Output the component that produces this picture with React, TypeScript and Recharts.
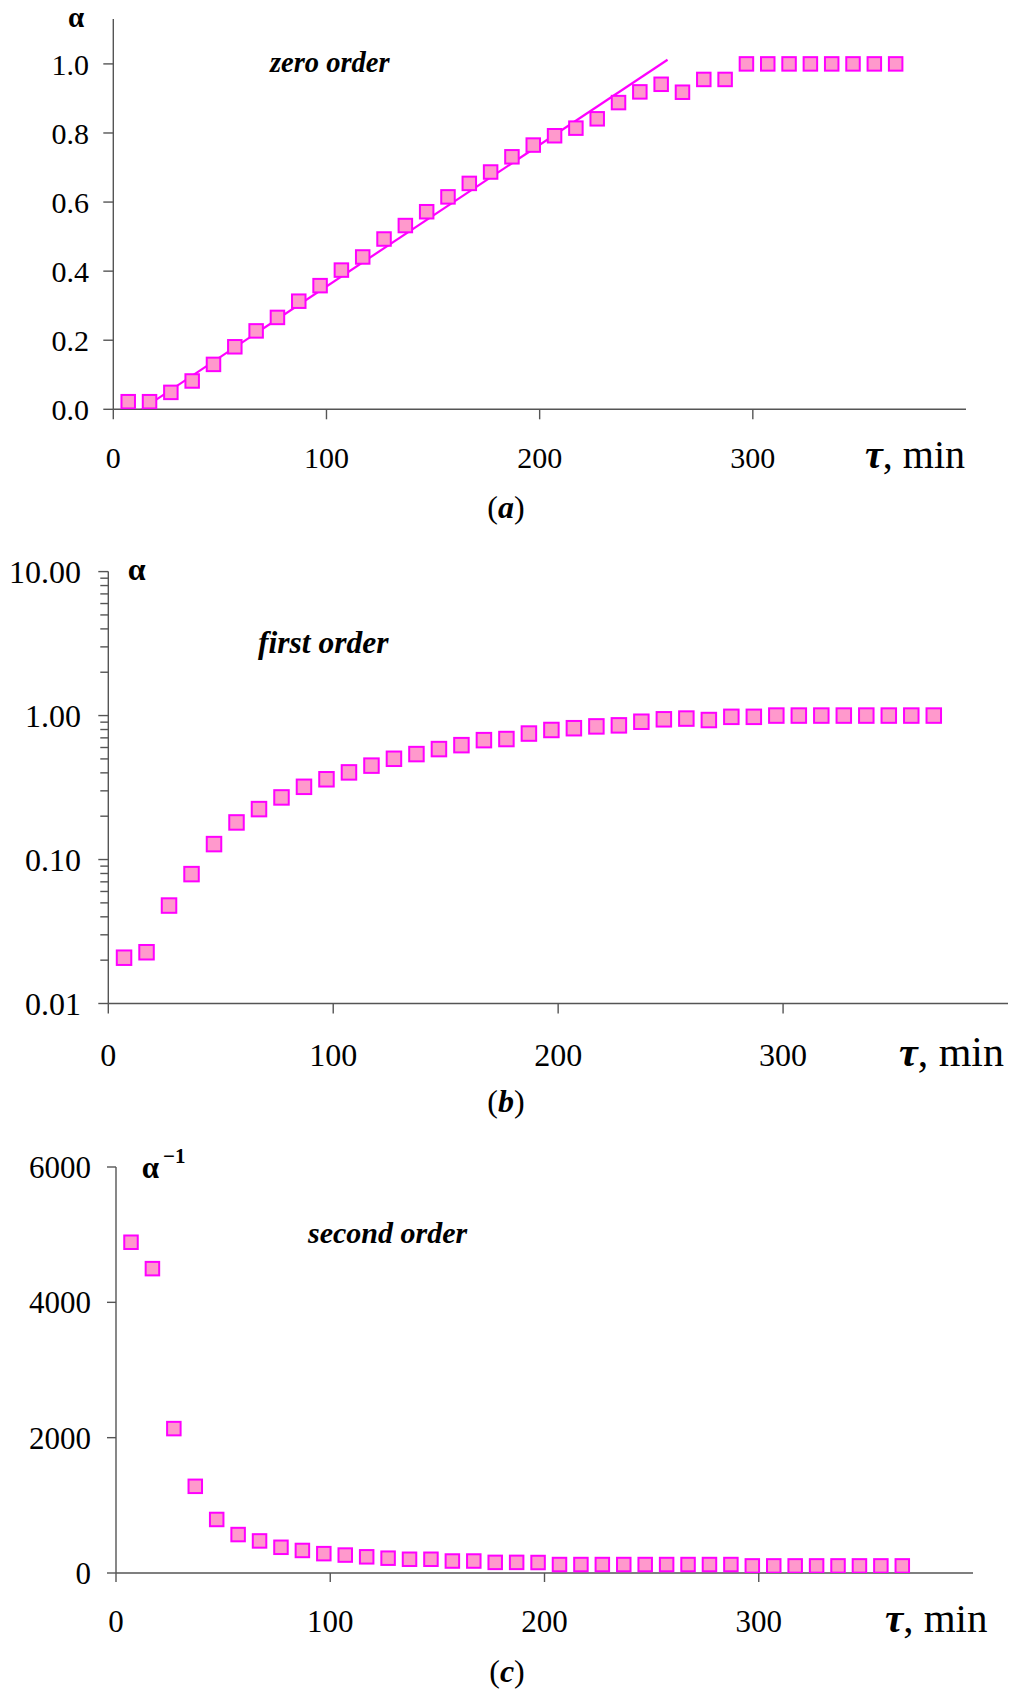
import React from 'react';
import { ScatterChart, Scatter, XAxis, YAxis } from 'recharts';

// ---------- data ----------
const timeMin = [7, 17, 27, 37, 47, 57, 67, 77, 87, 97, 107, 117, 127, 137, 147, 157, 167, 177, 187, 197, 207, 217, 227, 237, 247, 257, 267, 277, 287, 297, 307, 317, 327, 337, 347, 357, 367];

// (a) zero order: alpha vs time
const alphaZeroOrder = [0.022, 0.022, 0.049, 0.082, 0.13, 0.181, 0.227, 0.266, 0.313, 0.358, 0.403, 0.441, 0.493, 0.532, 0.572, 0.615, 0.654, 0.687, 0.731, 0.765, 0.792, 0.814, 0.841, 0.888, 0.919, 0.941, 0.918, 0.955, 0.955, 1.0, 1.0, 1.0, 1.0, 1.0, 1.0, 1.0, 1.0];

// fitted straight line in (a)
const fitTime = [13.3, 260];
const fitAlpha = [0, 1.012];

// (b) first order: alpha (log axis) vs time
const alphaFirstOrder = [0.0208, 0.0227, 0.0479, 0.0792, 0.128, 0.181, 0.224, 0.27, 0.32, 0.361, 0.403, 0.449, 0.501, 0.54, 0.585, 0.623, 0.675, 0.687, 0.75, 0.794, 0.817, 0.841, 0.855, 0.906, 0.942, 0.953, 0.931, 0.98, 0.98, 1.0, 1.0, 1.0, 1.0, 1.0, 1.0, 1.0, 1.0];

// (c) second order: alpha^-1 vs time
const alphaInverse = [4888, 4498, 2134, 1281, 791, 568, 474, 380, 333, 286, 265, 239, 219, 203, 203, 177, 177, 157, 157, 155, 125, 125, 125, 125, 125, 125, 125, 125, 125, 105, 105, 105, 105, 105, 105, 105, 105];

// axis ticks
const xTicks = [0, 100, 200, 300];
const yTicksA = [0, 0.2, 0.4, 0.6, 0.8, 1.0];
const yTicksBMajor = [0.01, 0.1, 1, 10];
const yTicksBMinor = [0.02, 0.03, 0.04, 0.05, 0.06, 0.07, 0.08, 0.09, 0.2, 0.3, 0.4, 0.5, 0.6, 0.7, 0.8, 0.9, 2, 3, 4, 5, 6, 7, 8, 9];
const yTicksC = [0, 2000, 4000, 6000];

// ---------- styling ----------
const FONT = '"Liberation Serif", "Times New Roman", serif';
const AXC = '#555555';
const MAG = '#FF00FF';
const PINK = '#FF99CC';
const axisLineStyle = { stroke: AXC, strokeWidth: 1.4 };

const dataA = timeMin.map((t, i) => ({ t, a: alphaZeroOrder[i] }));
const dataFit = fitTime.map((t, i) => ({ t, a: fitAlpha[i] }));
const dataB = timeMin.map((t, i) => ({ t, a: alphaFirstOrder[i] }));
const dataC = timeMin.map((t, i) => ({ t, a: alphaInverse[i] }));
const yTicksB = [...yTicksBMajor, ...yTicksBMinor].sort((p, q) => p - q);

const squareShape = (size: number) => (props: any) => {
  const { cx, cy } = props;
  if (cx == null || cy == null) return <g />;
  return (
    <rect
      x={cx - size / 2}
      y={cy - size / 2}
      width={size}
      height={size}
      fill={PINK}
      stroke={MAG}
      strokeWidth={2}
    />
  );
};

const noShape = () => <g />;

const B_TS = 10;
const B_TM = 17.3;
const LogTick = (props: any) => {
  const { x, y, payload } = props;
  const v = payload.value;
  const major = yTicksBMajor.includes(v);
  const axisX = x + B_TS + B_TM;
  const len = major ? 10 : 8;
  return (
    <g>
      <line x1={axisX - len} x2={axisX} y1={y} y2={y} stroke={AXC} strokeWidth={1.4} />
      {major && (
        <text x={x} y={y} dy="0.355em" textAnchor="end" fontSize={32} fontFamily={FONT} fill="#000">
          {v.toFixed(2)}
        </text>
      )}
    </g>
  );
};

const PanelA = () => (
  <div style={{ position: 'absolute', left: 0, top: 0 }}>
    <ScatterChart width={1017} height={480} margin={{ top: 19, right: 51, bottom: 0, left: 0 }}>
      <XAxis
        type="number"
        dataKey="t"
        domain={[0, 400]}
        ticks={xTicks}
        interval={0}
        height={70.7}
        tickSize={10}
        tickMargin={27.7}
        axisLine={axisLineStyle}
        tickLine={axisLineStyle}
        tick={{ fontSize: 30, fill: '#000', fontFamily: FONT }}
        allowDataOverflow
      />
      <YAxis
        type="number"
        dataKey="a"
        domain={[0, 1.13]}
        ticks={yTicksA}
        interval={0}
        width={113.3}
        tickSize={10}
        tickMargin={14.3}
        tickFormatter={(v: number) => v.toFixed(1)}
        axisLine={axisLineStyle}
        tickLine={axisLineStyle}
        tick={{ fontSize: 30, fill: '#000', fontFamily: FONT }}
        allowDataOverflow
      />
      <Scatter data={dataFit} line={{ stroke: MAG, strokeWidth: 2.2 }} shape={noShape} isAnimationActive={false} />
      <Scatter data={dataA} shape={squareShape(13.5)} isAnimationActive={false} />
    </ScatterChart>
  </div>
);

const PanelB = () => (
  <div style={{ position: 'absolute', left: 0, top: 520 }}>
    <ScatterChart width={1017} height={560} margin={{ top: 51.6, right: 9, bottom: 0, left: 0 }}>
      <XAxis
        type="number"
        dataKey="t"
        domain={[0, 400]}
        ticks={xTicks}
        interval={0}
        height={76.5}
        tickSize={10}
        tickMargin={29.8}
        axisLine={axisLineStyle}
        tickLine={axisLineStyle}
        tick={{ fontSize: 32, fill: '#000', fontFamily: FONT }}
        allowDataOverflow
      />
      <YAxis
        type="number"
        dataKey="a"
        scale="log"
        domain={[0.01, 10]}
        ticks={yTicksB}
        interval={0}
        width={108.3}
        tickSize={B_TS}
        tickMargin={B_TM}
        axisLine={axisLineStyle}
        tickLine={false}
        tick={<LogTick />}
        allowDataOverflow
      />
      <Scatter data={dataB} shape={squareShape(14.5)} isAnimationActive={false} />
    </ScatterChart>
  </div>
);

const PanelC = () => (
  <div style={{ position: 'absolute', left: 0, top: 1130 }}>
    <ScatterChart width={1017} height={520} margin={{ top: 37, right: 44, bottom: 0, left: 0 }}>
      <XAxis
        type="number"
        dataKey="t"
        domain={[0, 400]}
        ticks={xTicks}
        interval={0}
        height={77}
        tickSize={9}
        tickMargin={28}
        axisLine={axisLineStyle}
        tickLine={axisLineStyle}
        tick={{ fontSize: 31, fill: '#000', fontFamily: FONT }}
        allowDataOverflow
      />
      <YAxis
        type="number"
        dataKey="a"
        domain={[0, 6000]}
        ticks={yTicksC}
        interval={0}
        width={116}
        tickSize={9}
        tickMargin={16}
        axisLine={axisLineStyle}
        tickLine={axisLineStyle}
        tick={{ fontSize: 31, fill: '#000', fontFamily: FONT }}
        allowDataOverflow
      />
      <Scatter data={dataC} shape={squareShape(13.5)} isAnimationActive={false} />
    </ScatterChart>
  </div>
);

const Annotations = () => (
  <svg
    width={1017}
    height={1689}
    style={{ position: 'absolute', left: 0, top: 0, pointerEvents: 'none' }}
    fontFamily={FONT}
  >
    {/* panel a */}
    <text x={68} y={27} fontSize={29} fontWeight="bold">α</text>
    <text x={270} y={71.7} fontSize={28.5} fontWeight="bold" fontStyle="italic">zero order</text>
    <text x={865} y={468.3} fontSize={40}>
      <tspan fontWeight="bold" fontStyle="italic">τ</tspan>
      <tspan>, min</tspan>
    </text>
    <text x={506} y={518} fontSize={32} textAnchor="middle">
      <tspan>(</tspan>
      <tspan fontWeight="bold" fontStyle="italic">a</tspan>
      <tspan>)</tspan>
    </text>

    {/* panel b */}
    <text x={127.7} y={579.5} fontSize={32} fontWeight="bold">α</text>
    <text x={258} y={653} fontSize={31.5} fontWeight="bold" fontStyle="italic">first order</text>
    <text x={899} y={1066} fontSize={42}>
      <tspan fontWeight="bold" fontStyle="italic">τ</tspan>
      <tspan>, min</tspan>
    </text>
    <text x={506} y={1112} fontSize={32} textAnchor="middle">
      <tspan>(</tspan>
      <tspan fontWeight="bold" fontStyle="italic">b</tspan>
      <tspan>)</tspan>
    </text>

    {/* panel c */}
    <text x={141.7} y={1178.3} fontSize={31} fontWeight="bold">α</text>
    <text x={163} y={1163.3} fontSize={21} fontWeight="bold">−1</text>
    <text x={308} y={1242.8} fontSize={30} fontWeight="bold" fontStyle="italic">second order</text>
    <text x={885} y={1632} fontSize={41}>
      <tspan fontWeight="bold" fontStyle="italic">τ</tspan>
      <tspan>, min</tspan>
    </text>
    <text x={507} y={1682} fontSize={32} textAnchor="middle">
      <tspan>(</tspan>
      <tspan fontWeight="bold" fontStyle="italic">c</tspan>
      <tspan>)</tspan>
    </text>
  </svg>
);

export default function App() {
  return (
    <div style={{ position: 'absolute', left: 0, top: 0, width: 1017, height: 1689, background: '#fff', overflow: 'hidden' }}>
      <PanelA />
      <PanelB />
      <PanelC />
      <Annotations />
    </div>
  );
}
